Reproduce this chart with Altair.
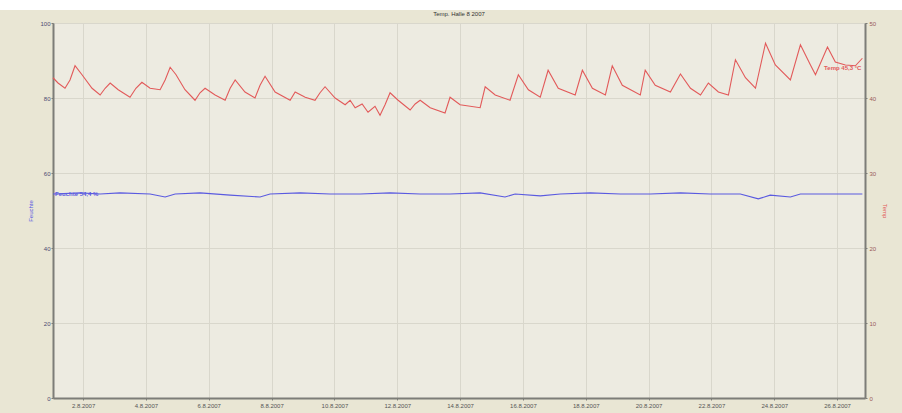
import altair as alt
import pandas as pd

# Hall temperature (right axis, °C), hourly-ish readings
temp_times = [
    "2007-08-01T01:00", "2007-08-01T04:50", "2007-08-01T10:10", "2007-08-01T14:00", "2007-08-01T17:50",
    "2007-08-01T23:10", "2007-08-02T06:50", "2007-08-02T13:00", "2007-08-02T16:50", "2007-08-02T20:40",
    "2007-08-03T02:50", "2007-08-03T11:50", "2007-08-03T16:20", "2007-08-03T20:55", "2007-08-04T03:10",
    "2007-08-04T10:50", "2007-08-04T14:40", "2007-08-04T18:30", "2007-08-04T23:00", "2007-08-05T05:50",
    "2007-08-05T13:30", "2007-08-05T17:20", "2007-08-05T21:10", "2007-08-06T04:50", "2007-08-06T12:30",
    "2007-08-06T16:20", "2007-08-06T20:10", "2007-08-07T03:40", "2007-08-07T11:20", "2007-08-07T15:10",
    "2007-08-07T19:00", "2007-08-08T02:40", "2007-08-08T14:10", "2007-08-08T18:00", "2007-08-09T01:40",
    "2007-08-09T09:10", "2007-08-09T13:00", "2007-08-09T16:50", "2007-08-10T00:30", "2007-08-10T08:10",
    "2007-08-10T12:00", "2007-08-10T15:50", "2007-08-10T21:10", "2007-08-11T01:40", "2007-08-11T07:00",
    "2007-08-11T10:50", "2007-08-11T14:40", "2007-08-11T18:30", "2007-08-12T00:40", "2007-08-12T09:50",
    "2007-08-12T13:40", "2007-08-12T17:30", "2007-08-13T01:10", "2007-08-13T12:30", "2007-08-13T16:20",
    "2007-08-14T00:00", "2007-08-14T15:20", "2007-08-14T19:10", "2007-08-15T02:50", "2007-08-15T14:10",
    "2007-08-15T20:30", "2007-08-16T04:10", "2007-08-16T13:15", "2007-08-16T19:15", "2007-08-17T03:00",
    "2007-08-17T15:55", "2007-08-17T21:25", "2007-08-18T05:05", "2007-08-18T15:00", "2007-08-18T20:15",
    "2007-08-19T03:55", "2007-08-19T17:40", "2007-08-19T21:25", "2007-08-20T05:05", "2007-08-20T16:40",
    "2007-08-21T00:20", "2007-08-21T08:00", "2007-08-21T15:40", "2007-08-21T21:40", "2007-08-22T05:20",
    "2007-08-22T13:00", "2007-08-22T18:20", "2007-08-23T02:00", "2007-08-23T09:40", "2007-08-23T17:20",
    "2007-08-24T00:50", "2007-08-24T12:20", "2007-08-24T20:00", "2007-08-25T03:40", "2007-08-25T07:30",
    "2007-08-25T16:40", "2007-08-25T22:40", "2007-08-26T06:20", "2007-08-26T14:00", "2007-08-26T19:20",
]
temp_values = [
    42.7, 42.0, 41.3, 42.4, 44.3,
    43.1, 41.3, 40.4, 41.3, 42.0,
    41.1, 40.1, 41.3, 42.1, 41.3,
    41.1, 42.4, 44.1, 43.1, 41.1,
    39.7, 40.7, 41.3, 40.4, 39.7,
    41.3, 42.4, 40.8, 40.0, 41.7,
    42.9, 40.8, 39.7, 40.8, 40.1,
    39.7, 40.7, 41.5, 40.0, 39.1,
    39.7, 38.7, 39.2, 38.1, 38.9,
    37.7, 39.1, 40.7, 39.7, 38.4,
    39.2, 39.7, 38.7, 38.0, 40.1,
    39.1, 38.7, 41.5, 40.4, 39.7,
    43.1, 41.1, 40.1, 43.7, 41.3,
    40.4, 43.7, 41.3, 40.4, 44.3,
    41.7, 40.4, 43.7, 41.7, 40.8,
    43.2, 41.3, 40.4, 42.0, 40.8,
    40.4, 45.1, 42.7, 41.3, 47.3,
    44.4, 42.4, 47.1, 44.4, 43.1,
    46.8, 44.8, 44.4, 44.3, 45.3,
]

# Relative humidity (left axis, %)
hum_times = [
    "2007-08-01T01:00", "2007-08-01T21:40", "2007-08-02T13:00", "2007-08-03T04:10", "2007-08-04T03:10",
    "2007-08-04T14:40", "2007-08-04T22:20", "2007-08-05T17:20", "2007-08-06T16:20", "2007-08-07T15:10",
    "2007-08-07T22:50", "2007-08-08T21:50", "2007-08-09T20:40", "2007-08-10T19:40", "2007-08-11T18:30",
    "2007-08-12T17:30", "2007-08-13T16:20", "2007-08-14T15:20", "2007-08-15T10:20", "2007-08-15T18:00",
    "2007-08-16T13:15", "2007-08-17T04:35", "2007-08-18T03:25", "2007-08-19T02:25", "2007-08-20T01:15",
    "2007-08-21T00:20", "2007-08-21T23:05", "2007-08-22T22:05", "2007-08-23T11:50", "2007-08-23T20:55",
    "2007-08-24T12:20", "2007-08-24T20:00", "2007-08-25T19:00", "2007-08-26T19:20",
]
hum_values = [
    54.4, 54.7, 54.4, 54.7, 54.4,
    53.6, 54.4, 54.7, 54.1, 53.6,
    54.4, 54.7, 54.4, 54.4, 54.7,
    54.4, 54.4, 54.7, 53.6, 54.4,
    53.9, 54.4, 54.7, 54.4, 54.4,
    54.7, 54.4, 54.4, 53.1, 54.1,
    53.6, 54.4, 54.4, 54.4,
]

left_ticks = [0, 20, 40, 60, 80, 100]
right_ticks = [0, 10, 20, 30, 40, 50]
title_text = "Temp. Halle 8 2007"
hum_title = "Feuchte"
temp_title = "Temp"

RED = "#e25a5a"
BLUE = "#5a5ae0"
FONT = "Liberation Sans"

temp_df = pd.DataFrame({"t": temp_times, "v": temp_values})
hum_df = pd.DataFrame({"t": hum_times, "v": hum_values})
temp_lbl = pd.DataFrame({"t": [temp_times[-1]], "v": [temp_values[-1]],
                         "txt": [f"{temp_title} {temp_values[-1]:.1f} °C".replace(".", ",")]})
hum_lbl = pd.DataFrame({"t": [hum_times[0]], "v": [hum_values[0]],
                        "txt": [f"{hum_title} {hum_values[0]:.1f} %".replace(".", ",")]})

x_scale = alt.Scale(domain=[alt.DateTime(year=2007, month=8, date=1, hours=1),
                            alt.DateTime(year=2007, month=8, date=26, hours=21, minutes=20)])
day_values = [alt.DateTime(year=2007, month=8, date=d) for d in range(2, 27)]

x_enc = alt.X(
    "t:T", scale=x_scale, title=None,
    axis=alt.Axis(
        values=day_values,
        labelExpr="date(datum.value) % 2 == 0 ? timeFormat(datum.value, '%-d.%-m.%Y') : ''",
        labelFontSize=6, labelColor="#555555", labelFont=FONT, labelPadding=2,
        tickSize=2, tickColor="#7d7d78",
        domainColor="#7d7d78", domainWidth=2,
        grid=True, gridColor="#d9d7cc", gridWidth=1,
        labelFlush=False, labelOverlap=False,
    ),
)

y_left = alt.Y(
    "v:Q", scale=alt.Scale(domain=[0, 100]), title=hum_title,
    axis=alt.Axis(
        orient="left", values=left_ticks,
        labelFontSize=6, labelColor="#4a4a70", labelFont=FONT, labelPadding=1,
        tickSize=2, tickColor="#7d7d78",
        domainColor="#7d7d78", domainWidth=2,
        grid=True, gridColor="#d9d7cc", gridWidth=1,
        titleFontSize=6, titleColor=BLUE, titleFont=FONT, titleFontWeight="normal",
        titlePadding=6,
    ),
)

y_right = alt.Y(
    "v:Q", scale=alt.Scale(domain=[0, 50]), title=temp_title,
    axis=alt.Axis(
        orient="right", values=right_ticks,
        labelFontSize=6, labelColor="#9a5a5a", labelFont=FONT, labelPadding=2,
        tickSize=2, tickColor="#7d7d78",
        domainColor="#7d7d78", domainWidth=2,
        grid=False,
        titleFontSize=6, titleColor=RED, titleFont=FONT, titleFontWeight="normal",
        titlePadding=6,
    ),
)

hum_line = alt.Chart(hum_df).mark_line(color=BLUE, strokeWidth=1.1).encode(x=x_enc, y=y_left)
hum_text = alt.Chart(hum_lbl).mark_text(
    align="left", baseline="middle", dx=2, fontSize=6, font=FONT, color=BLUE, fontWeight="bold"
).encode(x=alt.X("t:T", scale=x_scale), y=alt.Y("v:Q"), text="txt:N")

temp_line = alt.Chart(temp_df).mark_line(color=RED, strokeWidth=1.1).encode(x=x_enc, y=y_right)
temp_text = alt.Chart(temp_lbl).mark_text(
    align="right", baseline="middle", dx=-1, dy=10, fontSize=6, font=FONT, color=RED, fontWeight="bold"
).encode(x=alt.X("t:T", scale=x_scale), y=alt.Y("v:Q"), text="txt:N")

# white strip along the top edge of the window, with the chart title below it
one_row = pd.DataFrame({"a": [0]})
top_band = alt.Chart(one_row).mark_rect(color="white").encode(
    x=alt.value(-53), x2=alt.value(849), y=alt.value(-23), y2=alt.value(-13)
)
title_mark = alt.Chart(one_row).mark_text(
    text=title_text, fontSize=6, font=FONT, color="#333333", align="center", baseline="middle"
).encode(x=alt.value(406), y=alt.value(-9))

chart = (
    alt.layer(top_band, title_mark, alt.layer(hum_line, hum_text), alt.layer(temp_line, temp_text))
    .resolve_scale(y="independent")
    .properties(
        width=812, height=375,
        autosize=alt.AutoSizeParams(type="none"),
        padding={"left": 53, "top": 23, "right": 37, "bottom": 15},
        background="#e9e6d4",
    )
    .configure_view(fill="#edebe1", stroke="#8a8a82", strokeWidth=1)
)

chart.save("out.html", embed_options={"renderer": "svg", "actions": False})
